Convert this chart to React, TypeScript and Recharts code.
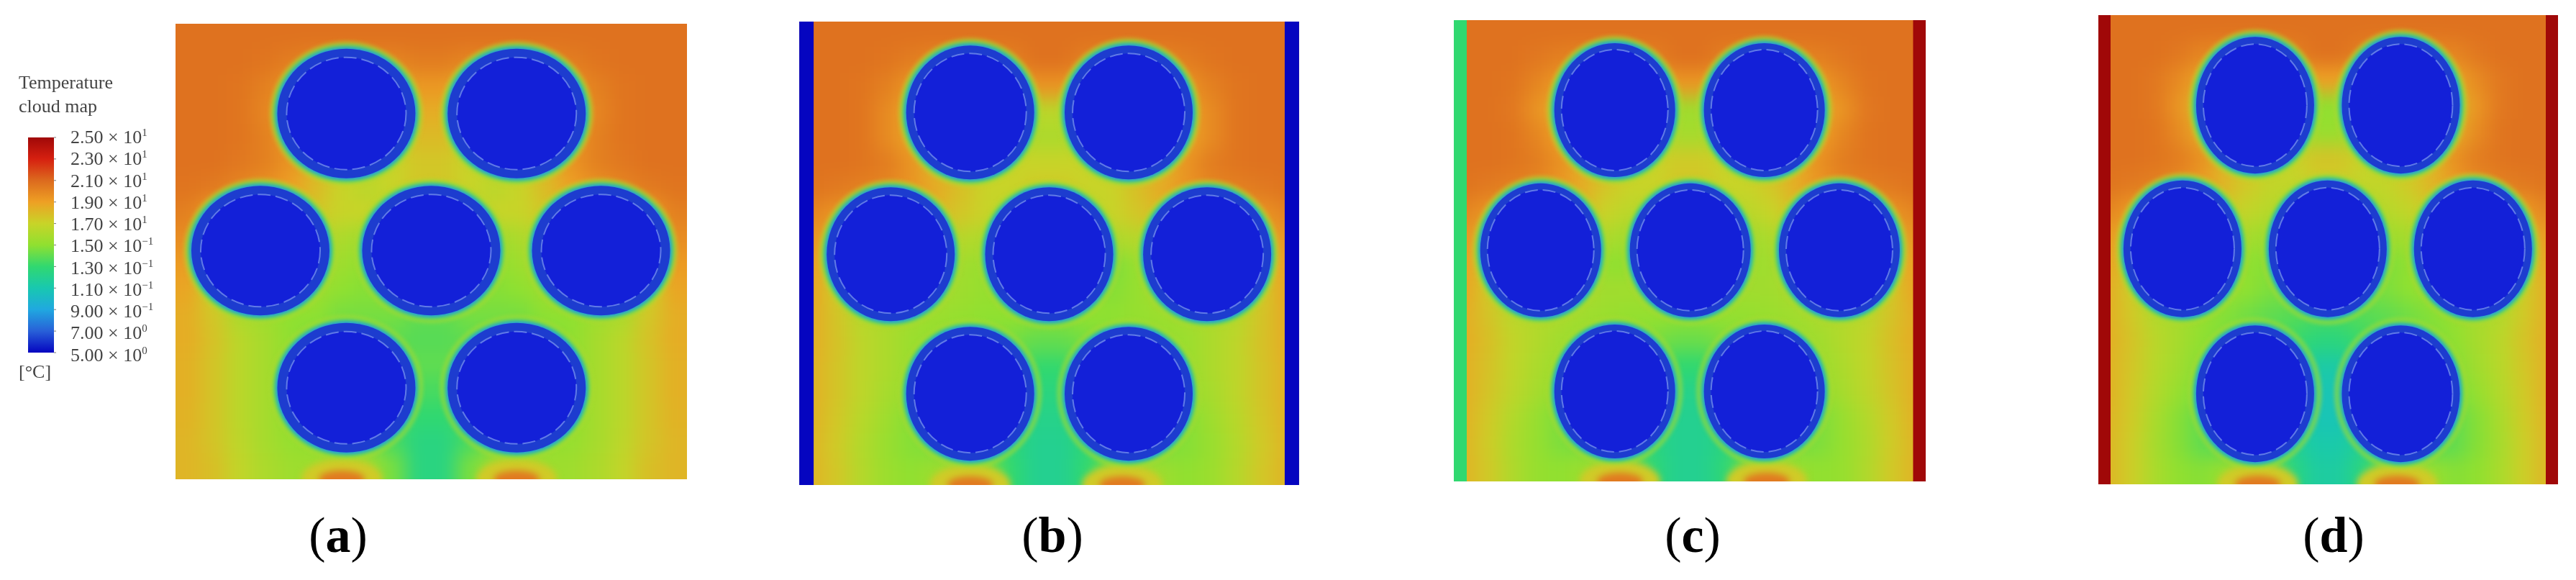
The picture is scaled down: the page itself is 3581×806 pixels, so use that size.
import React from 'react';
import { Bar, BarChart, Scatter, ScatterChart, XAxis, YAxis } from 'recharts';

const legendTicks = [25, 23, 21, 19, 17, 15, 13, 11, 9, 7, 5];
const legendMantissas = ['2.50', '2.30', '2.10', '1.90', '1.70', '1.50', '1.30', '1.10', '9.00', '7.00', '5.00'];
const legendExponents = ['1', '1', '1', '1', '1', '−1', '−1', '−1', '−1', '0', '0'];
const legendColors = ['#a00808', '#d62010', '#dc6a1e', '#eea024', '#c8d428', '#90e030', '#30d870', '#18c8b0', '#20a8e0', '#2860d8', '#0505c0'];

// temperature, 18 rows of 20 cells, top to bottom
const fieldA = [
  [20.7, 20.7, 20.7, 20.7, 20.7, 20.7, 20.7, 20.7, 20.7, 20.7, 20.7, 20.7, 20.7, 20.7, 20.7, 20.7, 20.7, 20.7, 20.7, 20.7],
  [20.7, 20.7, 20.7, 20.6, 20.3, 20, 20, 20, 20, 20.3, 20.3, 20, 20, 20, 20, 20.3, 20.6, 20.7, 20.7, 20.7],
  [20.7, 20.7, 20.6, 20.2, 19.5, 18, 18, 18, 18, 19.3, 19.3, 18, 18, 18, 18, 19.5, 20.2, 20.6, 20.7, 20.7],
  [20.7, 20.7, 20.6, 20, 19, 17, 17, 17, 17, 18.5, 18.5, 17, 17, 17, 17, 19, 20, 20.6, 20.7, 20.7],
  [20.7, 20.7, 20.6, 20.2, 19.2, 17, 17, 17, 17, 18, 18, 17, 17, 17, 17, 19.2, 20.2, 20.6, 20.7, 20.7],
  [20.7, 20.7, 20.5, 20.2, 19.5, 18, 17, 17, 17, 17.5, 17.5, 17, 17, 17, 18, 19.5, 20.2, 20.5, 20.7, 20.7],
  [20.6, 20.4, 20, 19.6, 19, 18, 17, 16.5, 17, 17.5, 17.5, 17, 16.5, 17, 18, 19, 19.6, 20, 20.4, 20.6],
  [20.2, 19, 18, 18, 18, 17.5, 17, 17, 16.5, 16.5, 16.5, 16.5, 17, 17, 17.5, 18, 18, 18, 19, 20.2],
  [19.7, 18.2, 17, 17, 17, 16.5, 16, 15.5, 16, 16, 16, 16, 15.5, 16, 16.5, 17, 17, 17, 18.2, 19.7],
  [19.2, 17.4, 16.5, 16.5, 16.5, 16, 15.5, 15, 15.5, 15.5, 15.5, 15.5, 15, 15.5, 16, 16.5, 16.5, 16.5, 17.4, 19.2],
  [18.8, 17, 16, 16, 16, 15.5, 15, 14.8, 15, 15, 15, 15, 14.8, 15, 15.5, 16, 16, 16, 17, 18.8],
  [18.5, 17.5, 16, 15.5, 15, 15, 14.5, 14.5, 14.5, 14, 14, 14.5, 14.5, 14.5, 15, 15, 15.5, 16, 17.5, 18.5],
  [18.5, 17.7, 16.5, 15.8, 15, 14.5, 14.5, 14, 14, 13.8, 13.8, 14, 14, 14.5, 14.5, 15, 15.8, 16.5, 17.7, 18.5],
  [18.4, 17.6, 16.5, 15.8, 15, 15, 15, 14.5, 14.5, 14, 14, 14.5, 14.5, 15, 15, 15, 15.8, 16.5, 17.6, 18.4],
  [18.4, 17.6, 16.5, 15.8, 15, 15, 15, 14.5, 14, 13.5, 13.5, 14, 14.5, 15, 15, 15, 15.8, 16.5, 17.6, 18.4],
  [18.3, 17.6, 16.5, 15.8, 15, 14.8, 14.5, 14, 13.5, 13, 13, 13.5, 14, 14.5, 14.8, 15, 15.8, 16.5, 17.6, 18.3],
  [18.2, 17.6, 16.6, 15.8, 15.2, 15, 14.8, 14.5, 13.5, 12.5, 12.5, 13.5, 14.5, 14.8, 15, 15.2, 15.8, 16.6, 17.6, 18.2],
  [18.2, 17.8, 16.8, 16, 15.5, 15.5, 15.8, 15.8, 14.5, 12.5, 12.5, 14.5, 15.8, 15.8, 15.5, 15.5, 16, 16.8, 17.8, 18.2],
];
const fieldB = [
  [20.7, 20.7, 20.7, 20.7, 20.7, 20.7, 20.7, 20.7, 20.7, 20.7, 20.7, 20.7, 20.7, 20.7, 20.7, 20.7, 20.7, 20.7, 20.7, 20.7],
  [20.7, 20.7, 20.7, 20.6, 20.3, 20, 20, 20, 20.2, 20.7, 20.7, 20.2, 20, 20, 20, 20.3, 20.6, 20.7, 20.7, 20.7],
  [20.7, 20.7, 20.6, 20.2, 19.4, 18, 18, 18, 18.5, 19.5, 19.5, 18.5, 18, 18, 18, 19.4, 20.2, 20.6, 20.7, 20.7],
  [20.7, 20.7, 20.6, 19.8, 18.8, 17, 17, 17, 16.5, 16.5, 16.5, 16.5, 17, 17, 17, 18.8, 19.8, 20.6, 20.7, 20.7],
  [20.7, 20.7, 20.6, 19.8, 18.8, 17, 17, 17, 16.5, 16, 16, 16.5, 17, 17, 17, 18.8, 19.8, 20.6, 20.7, 20.7],
  [20.7, 20.7, 20.6, 20.3, 19.5, 18, 17, 17, 17, 17, 17, 17, 17, 17, 18, 19.5, 20.3, 20.6, 20.7, 20.7],
  [20.6, 20.4, 20.2, 20, 19.4, 18.6, 17.8, 17, 17, 17.4, 17.4, 17, 17, 17.8, 18.6, 19.4, 20, 20.2, 20.4, 20.6],
  [20, 19.4, 18.4, 18.4, 18.4, 18, 17.5, 17, 16.5, 16.5, 16.5, 16.5, 17, 17.5, 18, 18.4, 18.4, 18.4, 19.4, 20],
  [19.4, 18.2, 17, 17, 17, 16.8, 16.3, 16, 16, 16, 16, 16, 16, 16.3, 16.8, 17, 17, 17, 18.2, 19.4],
  [19, 17.6, 16.5, 16.5, 16.5, 16, 15.6, 15.2, 15.5, 15.5, 15.5, 15.5, 14.6, 15.2, 16, 16.5, 16.5, 16.5, 17.6, 19],
  [18.8, 17.4, 16, 16, 16, 15.8, 15.5, 15.2, 15.3, 15.3, 15.3, 15.3, 14.8, 15.2, 15.8, 16, 16, 16, 17.4, 18.8],
  [18.6, 17.6, 16.4, 16, 15.6, 15.4, 15.2, 15, 15, 14.8, 14.8, 15, 15, 15.2, 15.4, 15.6, 16, 16.4, 17.6, 18.6],
  [18.5, 17.7, 16.6, 16, 15.4, 15, 14.8, 14.6, 14.4, 14, 14, 14.4, 14.6, 14.8, 15, 15.4, 16, 16.6, 17.7, 18.5],
  [18.4, 17.6, 16.6, 16, 15.3, 15, 15, 14.5, 14, 13, 13, 14, 14.5, 15, 15, 15.3, 16, 16.6, 17.6, 18.4],
  [18.4, 17.6, 16.6, 15.8, 15.2, 15, 14.8, 14.3, 13.5, 12.5, 12.5, 13.5, 14.3, 14.8, 15, 15.2, 15.8, 16.6, 17.6, 18.4],
  [18.3, 17.5, 16.4, 15.5, 14.8, 14.5, 14.3, 14, 13, 12.2, 12.2, 13, 14, 14.3, 14.5, 14.8, 15.5, 16.4, 17.5, 18.3],
  [18.2, 17.4, 16.2, 15.3, 14.8, 14.6, 14.4, 13.8, 12.8, 12, 12, 12.8, 13.8, 14.4, 14.6, 14.8, 15.3, 16.2, 17.4, 18.2],
  [18.2, 17.5, 16.3, 15.4, 15, 15.5, 15.8, 15, 13, 12, 12, 13, 15, 15.8, 15.5, 15, 15.4, 16.3, 17.5, 18.2],
];
const fieldC = [
  [20.7, 20.7, 20.7, 20.7, 20.7, 20.7, 20.7, 20.7, 20.7, 20.7, 20.7, 20.7, 20.7, 20.7, 20.7, 20.7, 20.7, 20.7, 20.7, 20.7],
  [20.7, 20.7, 20.7, 20.5, 20.2, 20, 20, 20, 20.2, 20.7, 20.7, 20.2, 20, 20, 20, 20.2, 20.5, 20.7, 20.7, 20.7],
  [20.7, 20.7, 20.6, 20, 19.2, 18, 18, 18, 18.4, 19.3, 19.3, 18.4, 18, 18, 18, 19.2, 20, 20.6, 20.7, 20.7],
  [20.7, 20.7, 20.5, 19.5, 18.5, 17, 17, 17, 16, 15.5, 15.5, 16, 17, 17, 17, 18.5, 19.5, 20.5, 20.7, 20.7],
  [20.7, 20.7, 20.6, 20, 19, 17, 17, 17, 16.5, 15.8, 15.8, 16.5, 17, 17, 17, 19, 20, 20.6, 20.7, 20.7],
  [20.7, 20.7, 20.6, 20.3, 19.6, 18.4, 17.5, 17, 17, 17.4, 17.4, 17, 17, 17.5, 18.4, 19.6, 20.3, 20.6, 20.7, 20.7],
  [20.6, 20.4, 20.2, 20, 19.4, 18.5, 17.5, 17, 17, 17.5, 17.5, 17, 17, 17.5, 18.5, 19.4, 20, 20.2, 20.4, 20.6],
  [20, 19.4, 18.3, 18.2, 18.2, 17.8, 17, 16.5, 16.5, 16.5, 16.5, 16.5, 16.5, 17, 17.8, 18.2, 18.2, 18.3, 19.4, 20],
  [19.4, 18, 17, 17, 17, 16.6, 16, 15.6, 16, 16, 16, 16, 15.6, 16, 16.6, 17, 17, 17, 18, 19.4],
  [19, 17.6, 16.4, 16.4, 16.4, 16, 15, 15, 15.6, 15.6, 15.6, 15.6, 15.4, 15.6, 16, 16.4, 16.4, 16.4, 17.6, 19],
  [18.8, 17.4, 16.2, 16.2, 16.2, 16, 15.6, 15.6, 15.6, 15.6, 15.6, 15.6, 15.6, 15.6, 16, 16.2, 16.2, 16.2, 17.4, 18.8],
  [18.5, 17.6, 16.5, 16.2, 16, 15.6, 15.4, 15.2, 15.2, 15, 15, 15.2, 15.2, 15.4, 15.6, 16, 16.2, 16.5, 17.6, 18.5],
  [18.5, 17.8, 16.8, 16.2, 15.6, 15.2, 15, 14.8, 14.6, 14.2, 14.2, 14.6, 14.8, 15, 15.2, 15.6, 16.2, 16.8, 17.8, 18.5],
  [18.4, 17.7, 16.7, 16, 15.4, 15, 15, 14.6, 13.8, 13, 13, 13.8, 14.6, 15, 15, 15.4, 16, 16.7, 17.7, 18.4],
  [18.4, 17.6, 16.6, 15.8, 15, 14.8, 14.6, 14, 13.2, 12.2, 12.2, 13.2, 14, 14.6, 14.8, 15, 15.8, 16.6, 17.6, 18.4],
  [18.3, 17.4, 16.2, 15.3, 14.6, 14.3, 14, 13.5, 12.8, 12, 12, 12.8, 13.5, 14, 14.3, 14.6, 15.3, 16.2, 17.4, 18.3],
  [18.2, 17.3, 16, 15.2, 14.6, 14.4, 14, 13.4, 12.5, 12, 12, 12.5, 13.4, 14, 14.4, 14.6, 15.2, 16, 17.3, 18.2],
  [18.2, 17.4, 16.1, 15.2, 15, 15.4, 15.6, 14.8, 12.8, 12, 12, 12.8, 14.8, 15.6, 15.4, 15, 15.2, 16.1, 17.4, 18.2],
];
const fieldD = [
  [20.7, 20.7, 20.7, 20.7, 20.7, 20.7, 20.7, 20.7, 20.7, 20.7, 20.7, 20.7, 20.7, 20.7, 20.7, 20.7, 20.7, 20.7, 20.7, 20.7],
  [20.7, 20.7, 20.7, 20.5, 20, 19.8, 19.8, 19.8, 20.2, 20.7, 20.7, 20.2, 19.8, 19.8, 19.8, 20, 20.5, 20.7, 20.7, 20.7],
  [20.7, 20.7, 20.5, 19.8, 18.8, 17.5, 17.5, 17.5, 17.8, 19, 19, 17.8, 17.5, 17.5, 17.5, 18.8, 19.8, 20.5, 20.7, 20.7],
  [20.7, 20.7, 20.5, 19.4, 18, 16.5, 16.5, 16.5, 15.5, 15, 15, 15.5, 16.5, 16.5, 16.5, 18, 19.4, 20.5, 20.7, 20.7],
  [20.7, 20.7, 20.6, 19.8, 18.5, 16.5, 16.5, 16.5, 15.8, 15.3, 15.3, 15.8, 16.5, 16.5, 16.5, 18.5, 19.8, 20.6, 20.7, 20.7],
  [20.7, 20.7, 20.6, 20.3, 19.6, 18, 17, 16.8, 17, 17.6, 17.6, 17, 16.8, 17, 18, 19.6, 20.3, 20.6, 20.7, 20.7],
  [20.6, 20.4, 20.2, 19.8, 19.2, 18.2, 17.4, 16.8, 16.8, 17.2, 17.2, 16.8, 16.8, 17.4, 18.2, 19.2, 19.8, 20.2, 20.4, 20.6],
  [20, 19.2, 18, 18, 17.8, 17.4, 16.8, 16.4, 16, 16, 16, 16, 16.4, 16.8, 17.4, 17.8, 18, 18, 19.2, 20],
  [19.2, 18, 16.8, 16.8, 16.8, 16.4, 15.8, 15.4, 15.6, 15.6, 15.6, 15.6, 15.4, 15.8, 16.4, 16.8, 16.8, 16.8, 18, 19.2],
  [18.8, 17.4, 16.2, 16.2, 16.2, 15.8, 15, 14.8, 15, 15, 15, 15, 14.6, 15, 15.8, 16.2, 16.2, 16.2, 17.4, 18.8],
  [18.5, 17.2, 16, 16, 15.8, 15.4, 15, 14.6, 14.6, 14.6, 14.6, 14.6, 14.6, 15, 15.4, 15.8, 16, 16, 17.2, 18.5],
  [18.4, 17.4, 16.2, 15.8, 15.2, 14.8, 14.4, 14, 13.8, 13.5, 13.5, 13.8, 14, 14.4, 14.8, 15.2, 15.8, 16.2, 17.4, 18.4],
  [18.4, 17.6, 16.5, 15.8, 15, 14.6, 14.2, 13.8, 13.2, 12.6, 12.6, 13.2, 13.8, 14.2, 14.6, 15, 15.8, 16.5, 17.6, 18.4],
  [18.3, 17.5, 16.4, 15.6, 14.8, 14.5, 14.2, 13.4, 12.2, 11.3, 11.3, 12.2, 13.4, 14.2, 14.5, 14.8, 15.6, 16.4, 17.5, 18.3],
  [18.3, 17.4, 16.2, 15.2, 14.5, 14.2, 13.8, 13, 11.8, 10.8, 10.8, 11.8, 13, 13.8, 14.2, 14.5, 15.2, 16.2, 17.4, 18.3],
  [18.2, 17.3, 15.9, 14.8, 14, 13.6, 13.2, 12.6, 11.6, 10.8, 10.8, 11.6, 12.6, 13.2, 13.6, 14, 14.8, 15.9, 17.3, 18.2],
  [18.1, 17.2, 15.8, 14.8, 14, 13.8, 13.6, 13, 12, 11.2, 11.2, 12, 13, 13.6, 13.8, 14, 14.8, 15.8, 17.2, 18.1],
  [18.1, 17.2, 15.9, 15, 14.8, 15.4, 15.8, 14.8, 12.6, 11.5, 11.5, 12.6, 14.8, 15.8, 15.4, 14.8, 15, 15.9, 17.2, 18.1],
];

const cylindersA = [{ x: 33.4, y: 19.7 }, { x: 66.7, y: 19.7 }, { x: 16.6, y: 49.8 }, { x: 50, y: 49.8 }, { x: 83.2, y: 49.8 }, { x: 33.4, y: 79.9 }, { x: 66.7, y: 79.9 }];
const cylindersB = [{ x: 34.2, y: 19.6 }, { x: 65.9, y: 19.6 }, { x: 18.3, y: 50.2 }, { x: 50, y: 50.2 }, { x: 81.6, y: 50.2 }, { x: 34.2, y: 80.3 }, { x: 65.9, y: 80.3 }];
const cylindersC = [{ x: 34.1, y: 19.5 }, { x: 65.8, y: 19.5 }, { x: 18.4, y: 49.9 }, { x: 50.1, y: 49.9 }, { x: 81.7, y: 49.9 }, { x: 34.1, y: 80.5 }, { x: 65.8, y: 80.5 }];
const cylindersD = [{ x: 34.1, y: 19.2 }, { x: 65.8, y: 19.2 }, { x: 18.3, y: 49.8 }, { x: 49.9, y: 49.8 }, { x: 81.5, y: 49.8 }, { x: 34.1, y: 80.7 }, { x: 65.8, y: 80.7 }];

const hotspotsA = [{ x: 32.5, y: 100 }, { x: 66.7, y: 100 }];
const hotspotsB = [{ x: 34.2, y: 100 }, { x: 64.6, y: 100 }];
const hotspotsC = [{ x: 35.2, y: 100 }, { x: 66.3, y: 100 }];
const hotspotsD = [{ x: 34.7, y: 100 }, { x: 65, y: 100 }];

const wallsA: { x: number; y: number; t: number }[] = [];
const wallsB = [{ x: 1.45, y: 50, t: 5 }, { x: 98.55, y: 50, t: 5 }];
const wallsC = [{ x: 1.37, y: 50, t: 13 }, { x: 98.7, y: 50, t: 25 }];
const wallsD = [{ x: 1.33, y: 50, t: 25 }, { x: 98.67, y: 50, t: 25 }];

const panels = [
  { id: 'a', left: 244, top: 33, width: 711, height: 633, field: fieldA, cylinders: cylindersA, hotspots: hotspotsA, walls: wallsA, rx: 96, ry: 90, ringX: 83, ringY: 78, wall: 0, captionX: 470 },
  { id: 'b', left: 1111, top: 30, width: 695, height: 644, field: fieldB, cylinders: cylindersB, hotspots: hotspotsB, walls: wallsB, rx: 89, ry: 93, ringX: 78, ringY: 82, wall: 20, captionX: 1463 },
  { id: 'c', left: 2021, top: 28, width: 656, height: 641, field: fieldC, cylinders: cylindersC, hotspots: hotspotsC, walls: wallsC, rx: 84, ry: 93, ringX: 74, ringY: 84, wall: 18, captionX: 2353 },
  { id: 'd', left: 2917, top: 21, width: 639, height: 652, field: fieldD, cylinders: cylindersD, hotspots: hotspotsD, walls: wallsD, rx: 82, ry: 95, ringX: 72, ringY: 85, wall: 17, captionX: 3244 },
];

const SERIF = '"Liberation Serif", serif';

const hex = (c: string) => [1, 3, 5].map((i) => parseInt(c.slice(i, i + 2), 16));

const tempColor = (t: number) => {
  const pos = Math.min(legendTicks.length - 1.001, Math.max(0, (25 - t) / 2));
  const i = Math.floor(pos);
  const a = hex(legendColors[i]);
  const b = hex(legendColors[i + 1]);
  const f = pos - i;
  return `rgb(${a.map((v, k) => Math.round(v + (b[k] - v) * f)).join(',')})`;
};

const Panel = ({ p }: { p: (typeof panels)[number] }) => {
  const cols = p.field[0].length;
  const rows = p.field.length;
  const cells = p.field.flatMap((row, r) => row.map((t, c) => ({ x: ((c + 0.5) / cols) * 100, y: ((r + 0.5) / rows) * 100, t, r, c })));
  const cw = p.width / cols + 1;
  const ch = p.height / rows + 1;

  const cellShape = (s: any) => {
    const { r, c, t } = s.payload;
    // outer cells run on past the edge so the blur does not fade there
    const x0 = s.cx - cw / 2 - (c === 0 ? 60 : 0);
    const y0 = s.cy - ch / 2 - (r === 0 ? 60 : 0);
    const w = cw + (c === 0 || c === cols - 1 ? 60 : 0);
    const h = ch + (r === 0 || r === rows - 1 ? 60 : 0);
    return <rect x={x0} y={y0} width={w} height={h} fill={tempColor(t)} />;
  };
  const hotShape = (s: any) => (
    <g style={{ filter: 'blur(5px)' }}>
      <ellipse cx={s.cx} cy={s.cy} rx={56} ry={28} fill={tempColor(17.4)} />
      <ellipse cx={s.cx} cy={s.cy} rx={32} ry={12} fill={tempColor(20.4)} />
    </g>
  );
  const haloShape = (s: any) => (
    <g style={{ filter: 'blur(2.5px)' }}>
      <ellipse cx={s.cx} cy={s.cy} rx={p.rx + 11} ry={p.ry + 11} fill="#b4d832" opacity={0.5} />
      <ellipse cx={s.cx} cy={s.cy} rx={p.rx + 7} ry={p.ry + 7} fill="#78dc42" opacity={0.8} />
      <ellipse cx={s.cx} cy={s.cy} rx={p.rx + 4} ry={p.ry + 4} fill="#28d094" opacity={0.9} />
      <ellipse cx={s.cx} cy={s.cy} rx={p.rx + 2} ry={p.ry + 2} fill="#2498e0" />
    </g>
  );
  const cylinderShape = (s: any) => (
    <g>
      <ellipse cx={s.cx} cy={s.cy} rx={p.rx} ry={p.ry} fill="#1d3ccf" />
      <ellipse cx={s.cx} cy={s.cy} rx={p.ringX} ry={p.ringY} fill="#1320d8" />
      <ellipse cx={s.cx} cy={s.cy} rx={p.ringX} ry={p.ringY} fill="none" stroke="#7f9bf0" strokeWidth={2} strokeDasharray="18 7" opacity={0.7} style={{ filter: 'blur(0.6px)' }} />
    </g>
  );
  const wallShape = (s: any) => (
    <rect x={s.cx - p.wall / 2} y={s.cy - p.height / 2} width={p.wall} height={p.height} fill={tempColor(s.payload.t)} />
  );

  return (
    <div style={{ position: 'absolute', left: p.left, top: p.top }}>
      <ScatterChart width={p.width} height={p.height} margin={{ top: 0, right: 0, bottom: 0, left: 0 }}>
        <XAxis type="number" dataKey="x" domain={[0, 100]} hide />
        <YAxis type="number" dataKey="y" domain={[0, 100]} reversed hide />
        <Scatter data={cells} shape={cellShape} className="field-cells" isAnimationActive={false} />
        <Scatter data={p.hotspots} shape={hotShape} isAnimationActive={false} />
        <Scatter data={p.cylinders} shape={haloShape} isAnimationActive={false} />
        <Scatter data={p.cylinders} shape={cylinderShape} isAnimationActive={false} />
        {p.walls.length > 0 && <Scatter data={p.walls} shape={wallShape} isAnimationActive={false} />}
      </ScatterChart>
    </div>
  );
};

const LegendTick = ({ x, y, payload }: any) => {
  const i = legendTicks.indexOf(payload.value);
  // the labels in the source sit a little wider apart than the ticks
  return (
    <text x={x + 18} y={y + 8 + i * 0.37} fontFamily={SERIF} fontSize={26} fill="#444">
      {legendMantissas[i]} × 10
      <tspan dy={-10} fontSize={15}>{legendExponents[i]}</tspan>
    </text>
  );
};

const ColorBar = () => (
  <div style={{ position: 'absolute', left: 39, top: 172 }}>
    <BarChart
      width={260}
      height={340}
      data={[{ name: 'T', range: [5, 25] }]}
      margin={{ top: 19, right: 0, bottom: 22, left: 0 }}
      barCategoryGap={0}
    >
      <defs>
        <linearGradient id="tempScale" x1="0" y1="0" x2="0" y2="1">
          {legendColors.map((c, i) => (
            <stop key={c} offset={`${i * 10}%`} stopColor={c} />
          ))}
        </linearGradient>
      </defs>
      <XAxis dataKey="name" hide />
      <YAxis
        type="number"
        orientation="right"
        width={224}
        domain={[5, 25]}
        ticks={legendTicks}
        interval={0}
        axisLine={false}
        tickLine={{ stroke: '#777' }}
        tickSize={3}
        tick={<LegendTick />}
      />
      <Bar dataKey="range" fill="url(#tempScale)" isAnimationActive={false} />
    </BarChart>
  </div>
);

const textStyle: React.CSSProperties = { position: 'absolute', fontFamily: SERIF, color: '#444', lineHeight: 1, whiteSpace: 'nowrap' };

export default function App() {
  return (
    <div style={{ position: 'absolute', left: 0, top: 0, width: 3581, height: 806, overflow: 'hidden', background: '#fff' }}>
      <style>{`.field-cells { filter: blur(13px); } .soft { filter: blur(0.5px); }`}</style>
      <div className="soft">
        <div style={{ ...textStyle, left: 26, top: 102, fontSize: 26 }}>Temperature</div>
        <div style={{ ...textStyle, left: 26, top: 135, fontSize: 26 }}>cloud map</div>
        <div style={{ ...textStyle, left: 26, top: 504, fontSize: 26 }}>[°C]</div>
        <ColorBar />
      </div>
      {panels.map((p) => (
        <Panel key={p.id} p={p} />
      ))}
      {panels.map((p) => (
        <div key={p.id} style={{ ...textStyle, color: '#000', left: p.captionX, top: 709, fontSize: 70, transform: 'translateX(-50%)' }}>
          (<b>{p.id}</b>)
        </div>
      ))}
    </div>
  );
}
